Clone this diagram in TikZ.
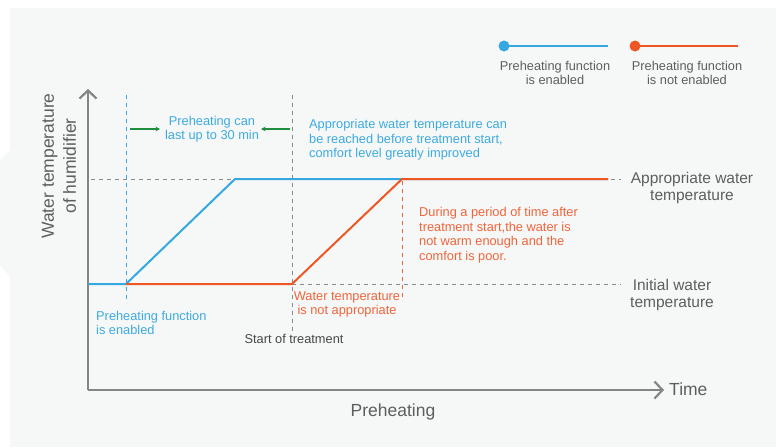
\documentclass[tikz,border=0pt]{standalone}
\usepackage{fontspec}
\setmainfont{Liberation Sans}
\usetikzlibrary{arrows.meta}
\definecolor{panel}{HTML}{F6F8F8}
\definecolor{cblue}{HTML}{35A8E0}
\definecolor{corange}{HTML}{EE5624}
\definecolor{tblue}{HTML}{3DAAE0}
\definecolor{torange}{HTML}{F0643A}
\definecolor{tgray}{HTML}{5E5E5E}
\definecolor{axgray}{HTML}{858585}
\definecolor{dgray}{HTML}{8A8A8A}
\definecolor{cgreen}{HTML}{1F8F3F}
\tikzset{
  txt/.style={inner sep=0pt, font=\fontsize{12.8}{14.5}\selectfont, align=center},
  bigtxt/.style={inner sep=0pt, font=\fontsize{15.5}{16.5}\selectfont, align=center, text=tgray},
  axislbl/.style={inner sep=0pt, font=\fontsize{17.5}{22}\selectfont, text=tgray, align=center},
  axisline/.style={draw=axgray, line width=2.4pt, -{Straight Barb[length=8pt,width=17pt,line width=2.2pt]}},
  gdash/.style={draw=dgray, line width=1pt, dash pattern=on 4pt off 4pt},
  bdash/.style={draw=cblue, line width=1pt, dash pattern=on 4pt off 4pt},
  odash/.style={draw=torange, line width=1pt, dash pattern=on 4pt off 4pt},
  bline/.style={draw=cblue, line width=2pt},
  oline/.style={draw=corange, line width=2pt},
  garrow/.style={draw=cgreen, line width=1.2pt, -{Stealth[length=4.5pt,width=4.5pt]}},
}
\begin{document}
\begin{tikzpicture}[x=1pt,y=-1pt]
\useasboundingbox (0,0) rectangle (776,447);
\fill[white] (0,0) rectangle (776,447);
\fill[panel] (10,8) rectangle (776,447);
\fill[panel] (10,150) -- (0,161) -- (0,265) -- (10,277) -- cycle;

% coordinates
\coordinate (orig) at (88,390);
\coordinate (ytip) at (88,89);
\coordinate (xtip) at (664,390);
\coordinate (y0) at (88,284);
\coordinate (pstart) at (126,284);
\coordinate (ptop) at (235,179);
\coordinate (tstart) at (292,284);
\coordinate (otop) at (402,179);
\coordinate (lineend) at (608,179);
\coordinate (adash0) at (91,179);
\coordinate (adash1) at (621,179);
\coordinate (idash1) at (621,284);
\coordinate (bv0) at (126,95);
\coordinate (bv1) at (126,303);
\coordinate (gv0) at (292,95);
\coordinate (gv1) at (292,331);
\coordinate (ov0) at (402,181);
\coordinate (ov1) at (402,301);

% dashed guides
\draw[gdash] (adash0) -- (adash1);
\draw[gdash] (tstart) -- (idash1);
\draw[bdash] (bv0) -- (bv1);
\draw[gdash] (gv0) -- (gv1);
\draw[odash] (ov0) -- (ov1);

% axes
\draw[axisline] (orig) -- (ytip);
\draw[axisline] (orig) -- (xtip);

% curves
\draw[bline] (y0) -- (pstart) -- (ptop) -- (lineend);
\draw[oline] (pstart) -- (tstart) -- (otop) -- (lineend);

% legend
\coordinate (l1a) at (504,46);
\coordinate (l1b) at (608,46);
\coordinate (l2a) at (635,46);
\coordinate (l2b) at (738,46);
\draw[cblue, line width=2pt] (l1a) -- (l1b);
\fill[cblue] (l1a) circle (5.5pt);
\draw[corange, line width=2pt] (l2a) -- (l2b);
\fill[corange] (l2a) circle (5.5pt);
\node[txt, text=tgray] (leg1) at (555,73) {Preheating function\\is enabled};
\node[txt, text=tgray] (leg2) at (687,73) {Preheating function\\is not enabled};

% annotations
\node[txt, text=tblue] (last) at (212,129) {Preheating can\\last up to 30 min};
\coordinate (ga0) at (130,129);
\coordinate (ga1) at (160,129);
\coordinate (gb0) at (290,129);
\coordinate (gb1) at (261,129);
\draw[garrow] (ga0) -- (ga1);
\draw[garrow] (gb0) -- (gb1);

\node[txt, text=tblue, align=left, anchor=west] (reach) at (309,140) {Appropriate water temperature can\\be reached before treatment start,\\comfort level greatly improved};

\node[bigtxt] (appr) at (692,188) {Appropriate water\\temperature};
\node[bigtxt] (init) at (672,295) {Initial water\\temperature};

\node[txt, text=torange, align=left, anchor=west] (during) at (419,235) {During a period of time after\\treatment start,the water is\\not warm enough and the\\comfort is poor.};

\node[txt, text=torange] (notappr) at (347,304.5) {Water temperature\\is not appropriate};
\node[txt, text=tblue, align=left, anchor=west] (enabled) at (96,323) {Preheating function\\is enabled};
\node[txt, text=black!72, anchor=center] (start) at (294,338.5) {Start of treatment};

\node[axislbl, anchor=west] (time) at (669,389) {Time};
\node[axislbl] (preh) at (393,412) {Preheating};
\node[axislbl, rotate=90] (ylab) at (59,166) {Water temperature\\of humidifier};
\end{tikzpicture}
\end{document}
